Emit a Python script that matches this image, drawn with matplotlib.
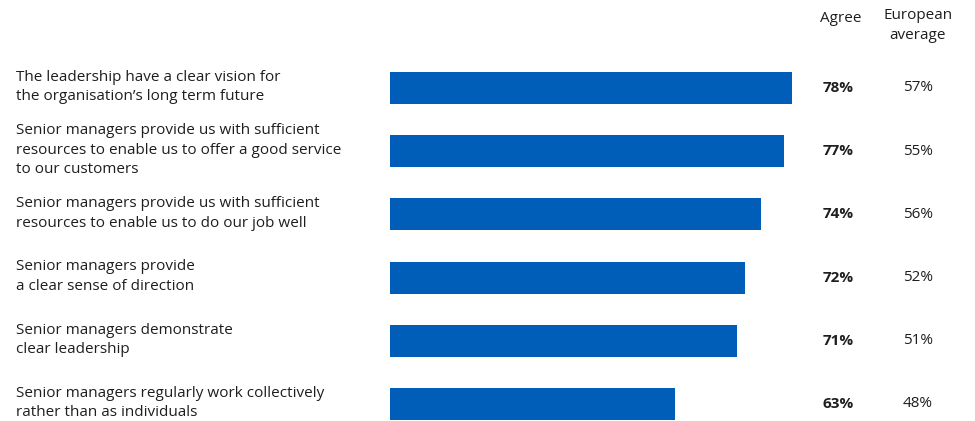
import matplotlib
matplotlib.use("Agg")
import matplotlib.pyplot as plt
import matplotlib.transforms as mtransforms

categories = [
    "The leadership have a clear vision for\nthe organisation\u2019s long term future",
    "Senior managers provide us with sufficient\nresources to enable us to offer a good service\nto our customers",
    "Senior managers provide us with sufficient\nresources to enable us to do our job well",
    "Senior managers provide\na clear sense of direction",
    "Senior managers demonstrate\nclear leadership",
    "Senior managers regularly work collectively\nrather than as individuals",
]
agree = [78, 77, 74, 72, 71, 63]
european_average = [57, 55, 56, 52, 51, 48]
col_headers = ["Agree", "European\naverage"]

W, H = 975, 421
fig = plt.figure(figsize=(W / 100, H / 100), dpi=100)
plt.rcParams['font.family'] = ['Open Sans', 'DejaVu Sans']

BLUE = "#005EB8"
TEXT = "#1e1e1e"

# axes geometry in pixels
ax_left, ax_right = 390, 802
bar_top_center, spacing = 88, 63.2
top_px = bar_top_center - spacing / 2
n = len(categories)
ymax_data = (n - 1) + (H - (bar_top_center + spacing * (n - 1))) / spacing
ax = fig.add_axes([ax_left / W, 0, (ax_right - ax_left) / W, (H - top_px) / H])
ax.set_ylim(ymax_data, -0.5)
ax.set_xlim(26.6, 79.3)
ys = list(range(n))
ax.barh(ys, agree, height=0.506, color=BLUE, left=0)
ax.axis("off")

trans = mtransforms.blended_transform_factory(fig.transFigure, ax.transData)
fs = 11
for y, cat, a, e in zip(ys, categories, agree, european_average):
    fig.text(16 / W, y - 0.015, cat, transform=trans, ha="left", va="center",
             fontsize=fs, color=TEXT, linespacing=1.42)
    fig.text(838 / W, y, f"{a}%", transform=trans, ha="center", va="center",
             fontsize=fs, color=TEXT, fontweight="bold")
    fig.text(918 / W, y, f"{e}%", transform=trans, ha="center", va="center",
             fontsize=fs, color=TEXT)

fig.text(841 / W, 1 - 18 / H, col_headers[0], ha="center", va="center",
         fontsize=fs, color=TEXT)
fig.text(918 / W, 1 - 8 / H, col_headers[1], ha="center", va="top",
         fontsize=fs, color=TEXT, linespacing=1.42)

fig.savefig("out.png", dpi=100)
